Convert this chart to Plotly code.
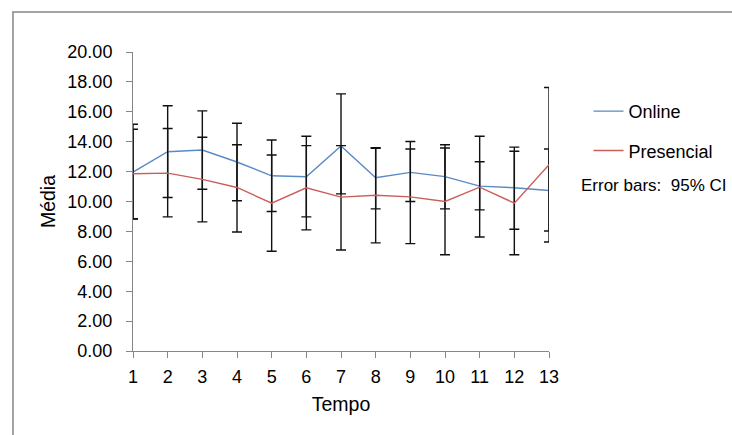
import plotly.graph_objects as go

tempo = list(range(1, 14))
online_mean = [11.97, 13.33, 13.44, 12.64, 11.72, 11.66, 13.71, 11.59, 11.95, 11.66, 11.03, 10.92, 10.74]
online_upper = [15.17, 16.40, 16.06, 15.23, 14.11, 14.36, 17.20, 13.60, 14.01, 13.80, 14.36, 13.64, 13.51]
online_lower = [8.83, 10.27, 10.82, 10.05, 9.33, 8.97, 10.51, 9.51, 10.00, 9.51, 7.63, 8.14, 8.03]
presencial_mean = [11.86, 11.90, 11.48, 10.94, 9.89, 10.92, 10.29, 10.42, 10.31, 10.00, 10.96, 9.89, 12.46]
presencial_upper = [14.83, 14.88, 14.30, 13.80, 13.11, 13.74, 13.74, 13.56, 13.51, 13.58, 12.66, 13.36, 17.63]
presencial_lower = [8.85, 8.97, 8.64, 7.96, 6.67, 8.10, 6.76, 7.23, 7.18, 6.44, 9.44, 6.44, 7.29]
y_ticks = [0, 2, 4, 6, 8, 10, 12, 14, 16, 18, 20]

FONT = "Liberation Sans"
AXIS = "#868686"

def err(mean, lo, hi):
    return dict(type="data", symmetric=False,
                array=[h - m for m, h in zip(mean, hi)],
                arrayminus=[m - l for m, l in zip(mean, lo)],
                color="#111111", thickness=1.4, width=5)

fig = go.Figure()
fig.add_trace(go.Scatter(x=tempo, y=online_mean, mode="lines", name="Online",
                         line=dict(color="#5A8AC6", width=1.4), legendgroup="a",
                         error_y=err(online_mean, online_lower, online_upper)))
fig.add_trace(go.Scatter(x=tempo, y=presencial_mean, mode="lines", name="Presencial",
                         line=dict(color="#C95E5B", width=1.4), legendgroup="b",
                         error_y=err(presencial_mean, presencial_lower, presencial_upper)))

fig.update_layout(
    width=732, height=435,
    margin=dict(l=133, r=183, t=52, b=84),
    paper_bgcolor="white", plot_bgcolor="white",
    font=dict(family=FONT, size=18, color="black"),
    showlegend=True,
    legend=dict(x=1.095, y=0.863, xanchor="left", yanchor="top",
                font=dict(size=18), tracegroupgap=13, traceorder="grouped",
                bgcolor="rgba(0,0,0,0)"),
    xaxis=dict(range=[1, 13], tickvals=tempo, ticks="outside", ticklen=6,
               tickcolor=AXIS, showline=True, linecolor=AXIS, linewidth=1,
               showgrid=False, zeroline=False, ticklabelstandoff=3,
               title=dict(text="Tempo", standoff=11, font=dict(size=19.5))),
    yaxis=dict(range=[0, 20], tickvals=y_ticks, tickformat=".2f", ticks="outside",
               ticklen=6, tickcolor=AXIS, showline=True, linecolor=AXIS,
               linewidth=1, showgrid=False, zeroline=False, ticklabelstandoff=10,
               title=dict(text="Média", standoff=6, font=dict(size=19.5))),
    annotations=[dict(text="Error bars:\u00a0 95% CI", xref="paper", yref="paper",
                      x=1.073, y=0.552, xanchor="left", yanchor="middle",
                      showarrow=False, font=dict(size=17))],
    shapes=[dict(type="rect", xref="paper", yref="paper",
                 x0=-0.2885, x1=3, y0=-3, y1=1.134,
                 line=dict(color=AXIS, width=1.5), layer="below")],
)

fig.write_html("out.html", config={"displayModeBar": False},
               post_script="document.body.style.margin='0';document.body.style.overflow='hidden';")
